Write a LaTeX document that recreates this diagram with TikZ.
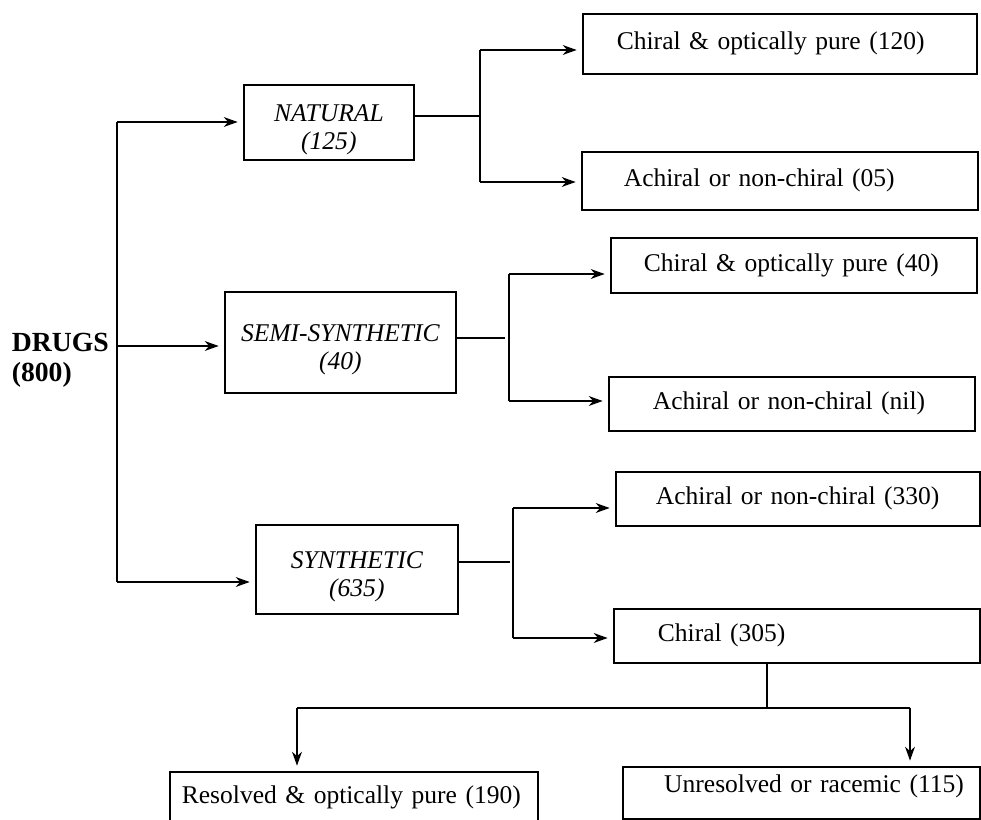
\documentclass[tikz,border=0pt]{standalone}
\usepackage{fontspec}
\setmainfont{Liberation Serif}
\usetikzlibrary{arrows.meta}
\newcommand{\upx}{0.47pt}

\begin{document}
\begin{tikzpicture}[x=\upx,y=-\upx,line width=0.8pt,font=\fontsize{12}{13.5}\selectfont,
  >={Stealth[length=6.5pt,width=4.6pt,inset=2pt]},
  arw/.style={->,shorten >=2.5pt},
  grp/.style={draw,anchor=north west,align=center,inner sep=0pt,font=\fontsize{12}{13.5}\selectfont\itshape,
    text height=28.5pt},
  leaf/.style n args={3}{draw,anchor=north west,align=left,inner ysep=0pt,
    minimum height=#1*\upx,inner xsep=#2*\upx,text width=#3*\upx}]
  \useasboundingbox (0,0) rectangle (981,820);
  \clip (0,0) rectangle (981,820);
  % root and groups
  \node[font=\fontsize{13}{14}\selectfont\bfseries,align=left,anchor=west,inner sep=0pt](drugs) at (11,360){DRUGS\\(800)};
  \node[grp,minimum width=170*\upx,minimum height=75*\upx](nat) at (243,84){NATURAL\\(125)};
  \node[grp,minimum width=231*\upx,minimum height=101*\upx](semi) at (224,291){SEMI-SYNTHETIC\\(40)};
  \node[grp,minimum width=202*\upx,minimum height=89*\upx](syn) at (255,524){SYNTHETIC\\(635)};
  % leaves
  \node[leaf={60}{34}{326}](b120) at (582,13){Chiral \& optically pure (120)};
  \node[leaf={58}{42}{312}](b05) at (581,151){Achiral or non-chiral (05)};
  \node[leaf={55}{33}{300}](b40) at (610,237){Chiral \& optically pure (40)};
  \node[leaf={54}{44}{278}](bnil) at (608,376){Achiral or non-chiral (nil)};
  \node[leaf={54}{40}{284}](b330) at (615,471){Achiral or non-chiral (330)};
  \node[leaf={54}{44}{278}](b305) at (613,608){Chiral (305)};
  \node[leaf={52}{12}{344}](bres) at (169,771){Resolved \& optically pure (190)};
  \node[leaf={52}{16}{325},align=right,text depth=9pt](bunr) at (622,766){Unresolved or racemic (115)};
  % trunk
  \coordinate(t1) at (117,122);\coordinate(t2) at (117,346);\coordinate(t3) at (117,582);
  \draw(t1)--(t3);
  \draw[arw](t1)--(t1 -| nat.west);\draw[arw](t2)--(t2 -| semi.west);\draw[arw](t3)--(t3 -| syn.west);
  % natural
  \coordinate(nj) at (480,116);\coordinate(n0) at (480,50);\coordinate(n1) at (480,182);
  \draw(nj -| nat.east)--(nj);\draw(n0)--(n1);
  \draw[arw](n0)--(n0 -| b120.west);\draw[arw](n1)--(n1 -| b05.west);
  % semi-synthetic
  \coordinate(sj) at (505,338);\coordinate(s0) at (509,274);\coordinate(s1) at (509,401);
  \draw(sj -| semi.east)--(sj);\draw(s0)--(s1);
  \draw[arw](s0)--(s0 -| b40.west);\draw[arw](s1)--(s1 -| bnil.west);
  % synthetic
  \coordinate(yj) at (510,562);\coordinate(y0) at (513,508);\coordinate(y1) at (513,638);
  \draw(yj -| syn.east)--(yj);\draw(y0)--(y1);
  \draw[arw](y0)--(y0 -| b330.west);\draw[arw,line width=1.4pt](y1)--(y1 -| b305.west);
  % chiral split
  \coordinate(c0) at (767,708);\coordinate(cl) at (297,708);\coordinate(cr) at (910,708);
  \draw(c0 |- b305.south)--(c0);\draw(cl)--(cr);
  \draw[arw](cl)--(cl |- bres.north);\draw[arw](cr)--(cr |- bunr.north);
\end{tikzpicture}
\end{document}
